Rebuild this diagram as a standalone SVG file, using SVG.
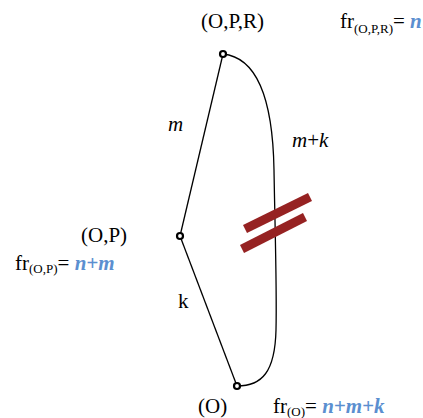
<svg xmlns="http://www.w3.org/2000/svg" width="423" height="418" viewBox="0 0 423 418">
<style>
text{font-family:"Liberation Serif","Times New Roman",serif;font-size:21px;fill:#000}
.sub{font-size:13px}
.v{font-weight:bold;font-style:italic;fill:#5b8fd0}
.i{font-style:italic}
.edge{fill:none;stroke:#000;stroke-width:1.3}
.node{fill:#fff;stroke:#000;stroke-width:2.2}
.bar{stroke:#962222;stroke-width:9}
</style>
<rect width="423" height="418" fill="#fff"/>
<g id="connectors">
<path class="edge" d="M223,54 L180,236"/>
<path class="edge" d="M180,236 L237,386"/>
<path class="edge" d="M223,54 C262,58 273,110 274,170 C275,230 277,290 276,330 C275,372 262,386 237,386"/>
<line class="bar" x1="245" y1="229" x2="310" y2="197"/>
<line class="bar" x1="242" y1="249" x2="305" y2="217"/>
<text class="i" x="168" y="131">m</text>
<text x="292" y="147"><tspan class="i">m</tspan>+<tspan class="i">k</tspan></text>
<text x="178" y="308">k</text>
</g>
<g id="n_OPR">
<circle class="node" cx="223" cy="54" r="3"/>
<text x="201" y="28">(O,P,R)</text>
<text x="340" y="28">fr<tspan class="sub" dy="5">(O,P,R)</tspan><tspan dy="-5">= </tspan><tspan class="v">n</tspan></text>
</g>
<g id="n_OP">
<circle class="node" cx="180" cy="236" r="3"/>
<text x="81" y="242">(O,P)</text>
<text x="15" y="270">fr<tspan class="sub" dy="3">(O,P)</tspan><tspan dy="-3">= </tspan><tspan class="v">n+m</tspan></text>
</g>
<g id="n_O">
<circle class="node" cx="237" cy="386" r="3"/>
<text x="198" y="413">(O)</text>
<text x="273" y="413">fr<tspan class="sub" dy="3">(O)</tspan><tspan dy="-3">= </tspan><tspan class="v">n+m+k</tspan></text>
</g>
</svg>
